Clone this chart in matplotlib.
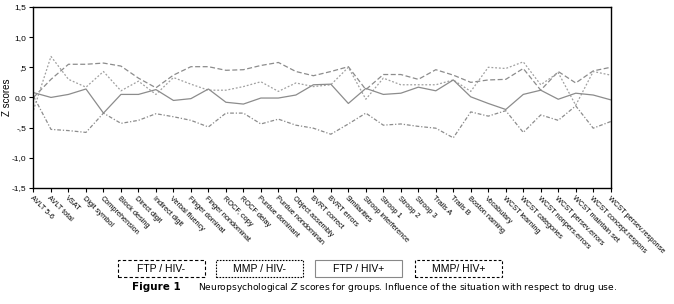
import matplotlib
matplotlib.use("Agg")
import matplotlib.pyplot as plt
from matplotlib.patches import Rectangle

# tests on the x axis
tests = ["AVLT 5-6", "AVLT total", "VSAT", "Digit symbol", "Comprehension",
         "Block desing", "Direct digit", "Indirect digit", "Verbal fluency",
         "Finger dominat", "Finger nondominat", "ROCF, copy", "ROCF delay",
         "Purdue dominant", "Purdue nondominan", "Object assembly",
         "BVRT correct", "BVRT errors", "Similarities", "Stroop interference",
         "Stroop 1", "Stroop 2", "Stroop 3", "Trails A", "Trails B",
         "Boston naming", "Vocabulary", "WCST learning", "WCST categories",
         "WCST nonpers.errors", "WCST persev.errors", "WCST maintain set",
         "WCST concept.respons", "WCST persev.response"]

# Z scores
ftp_hiv_neg = [0.00, 0.30, 0.55, 0.55, 0.57, 0.52, 0.32, 0.16, 0.37, 0.51,
               0.51, 0.45, 0.46, 0.53, 0.58, 0.43, 0.36, 0.43, 0.51, 0.13,
               0.38, 0.38, 0.30, 0.46, 0.37, 0.25, 0.29, 0.30, 0.48, 0.12,
               0.43, 0.24, 0.44, 0.50]
mmp_hiv_neg = [-0.21, 0.68, 0.30, 0.17, 0.43, 0.11, 0.27, 0.05, 0.33, 0.22,
               0.12, 0.12, 0.18, 0.26, 0.10, 0.24, 0.18, 0.21, 0.50, -0.03,
               0.32, 0.21, 0.21, 0.21, 0.29, 0.10, 0.50, 0.48, 0.59, 0.21,
               0.41, -0.13, 0.43, 0.37]
ftp_hiv_pos = [0.08, 0.00, 0.05, 0.14, -0.26, 0.05, 0.05, 0.13, -0.05, -0.02,
               0.14, -0.08, -0.11, -0.01, -0.01, 0.04, 0.21, 0.22, -0.10, 0.15,
               0.05, 0.07, 0.17, 0.11, 0.29, 0.01, -0.10, -0.20, 0.05, 0.12,
               -0.03, 0.07, 0.04, -0.04]
mmp_hiv_pos = [0.02, -0.53, -0.55, -0.58, -0.26, -0.43, -0.38, -0.27, -0.32, -0.38,
               -0.49, -0.26, -0.26, -0.44, -0.36, -0.46, -0.51, -0.61, -0.44, -0.26,
               -0.46, -0.44, -0.48, -0.51, -0.67, -0.24, -0.31, -0.22, -0.58, -0.29,
               -0.38, -0.14, -0.51, -0.40]

series_names = ["FTP / HIV-", "MMP / HIV-", "FTP / HIV+", "MMP/ HIV+"]
yticks = [-1.5, -1.0, -0.5, 0.0, 0.5, 1.0, 1.5]
ytick_labels = ["-1,5", "-1,0", "-,5", "0,0", ",5", "1,0", "1,5"]

plt.rcParams['font.family'] = ['Liberation Sans', 'DejaVu Sans']

fig = plt.figure(figsize=(6.74, 3.04), dpi=100)
ax = fig.add_axes([0.0497, 0.382, 0.8564, 0.595])

x = range(len(tests))
styles = [(0, (4, 2)), (0, (1.5, 1.5)), '-', (0, (3, 1.5, 1, 1.5))]
colors = ['#8c8c8c', '#a0a0a0', '#8c8c8c', '#8c8c8c']
for vals, ls, c in zip([ftp_hiv_neg, mmp_hiv_neg, ftp_hiv_pos, mmp_hiv_pos], styles, colors):
    ax.plot(x, vals, linestyle=ls, color=c, linewidth=0.9)

ax.set_xlim(0, len(tests) - 1)
ax.set_ylim(-1.5, 1.5)
ax.set_yticks(yticks)
ax.set_yticklabels(ytick_labels, fontsize=6)
ax.set_xticks(list(x))
ax.set_xticklabels(tests, rotation=-45, ha='left', va='top',
                   rotation_mode='anchor', fontsize=5.3)
ax.tick_params(direction='out', length=3, width=0.8, pad=2)
ax.set_ylabel("Z scores", fontsize=7)
ax.yaxis.set_label_coords(-0.037, 0.5)
for s in ax.spines.values():
    s.set_linewidth(1.0)

# legend boxes drawn under the plot
W, H = 674.0, 304.0
box_left = [118, 216, 315, 415]
box_styles = [(0, (3, 2)), (0, (1.5, 1.2)), '-', (0, (2.5, 1.8))]
box_colors = ['black', 'black', '#888888', 'black']
for name, bx, ls, c in zip(series_names, box_left, box_styles, box_colors):
    fig.patches.append(Rectangle((bx / W, 1 - 277 / H), 87 / W, 17 / H,
                                 transform=fig.transFigure, fill=False,
                                 edgecolor=c, linestyle=ls, linewidth=0.8))
    fig.text((bx + 43.5) / W, 1 - 268.5 / H, name, ha='center', va='center',
             fontsize=7.5)

fig.text(132 / W, 1 - 287 / H, "Figure 1", fontsize=7.5, fontweight='bold',
         family='DejaVu Sans', va='center', ha='left')
fig.text(198 / W, 1 - 287 / H,
         "Neuropsychological $\\mathit{Z}$ scores for groups. Influence of the situation with respect to drug use.",
         fontsize=6.6, family='DejaVu Sans', va='center', ha='left')

fig.savefig("out.png", dpi=100)
